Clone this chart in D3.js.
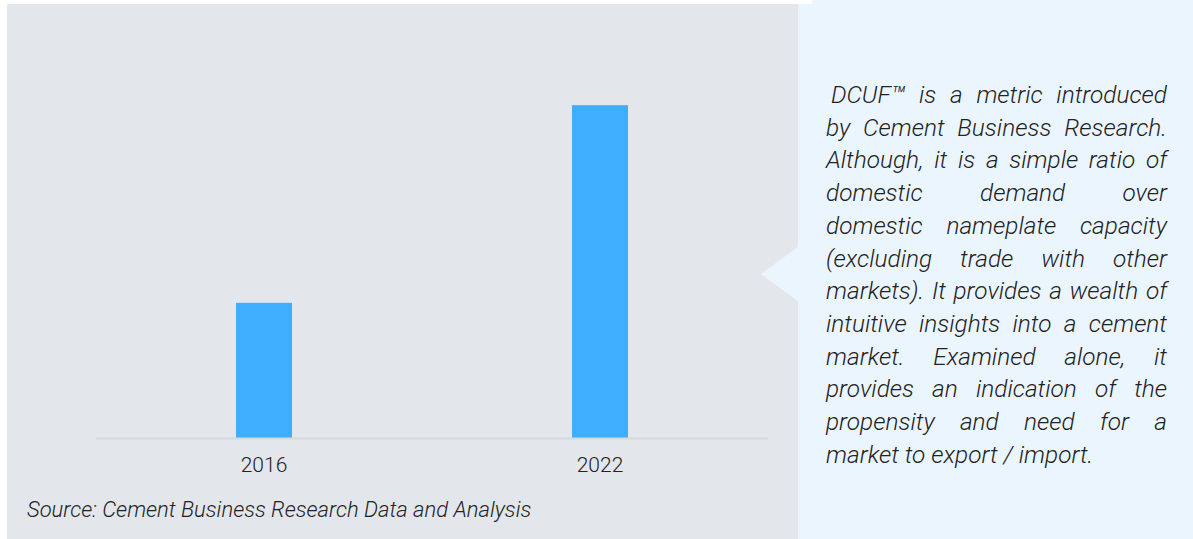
<!DOCTYPE html>
<html>
<head>
<meta charset="utf-8">
<script src="https://cdn.jsdelivr.net/npm/d3@7"></script>
<style>
  html, body { margin: 0; padding: 0; background: #fff; }
  svg { display: block; font-family: Roboto, "Noto Sans", sans-serif; }
</style>
</head>
<body>
<svg id="chart" width="1193" height="539"></svg>
<script>
// DCUF values (arbitrary unit scale 0..1)
const years  = ['2016', '2022'];
const values = [0.338, 0.832];

const noteLines = [
  '\u00a0DCUF\u2122 is a metric introduced',
  'by Cement Business Research.',
  'Although, it is a simple ratio of',
  'domestic demand over',
  'domestic nameplate capacity',
  '(excluding trade with other',
  'markets). It provides a wealth of',
  'intuitive insights into a cement',
  'market. Examined alone, it',
  'provides an indication of the',
  'propensity and need for a',
  'market to export / import.'
];
const sourceText = 'Source: Cement Business Research Data and Analysis';

const svg = d3.select('#chart');

// ── Panels ────────────────────────────────────────────────
svg.append('rect')
  .attr('x', 7).attr('y', 4)
  .attr('width', 791).attr('height', 535)
  .attr('fill', '#e3e6eb');

svg.append('rect')
  .attr('x', 798).attr('y', 4)
  .attr('width', 395).attr('height', 535)
  .attr('fill', '#ebf5fe');
svg.append('rect')
  .attr('x', 812).attr('y', 0)
  .attr('width', 381).attr('height', 10)
  .attr('fill', '#ebf5fe');

// pointer triangle
svg.append('path')
  .attr('d', 'M761,274 L799,246 L799,302 Z')
  .attr('fill', '#ebf5fe');

// ── Bars ──────────────────────────────────────────────────
const x = d3.scaleBand()
  .domain(years)
  .range([96, 768])
  .paddingInner(5 / 6)
  .paddingOuter(5 / 12);

const y = d3.scaleLinear()
  .domain([0, 1])
  .range([438, 38]);

svg.append('g')
  .selectAll('rect')
  .data(years)
  .join('rect')
  .attr('x', d => x(d))
  .attr('y', (d, i) => y(values[i]))
  .attr('width', x.bandwidth())
  .attr('height', (d, i) => y(0) - y(values[i]))
  .attr('fill', '#3eaefe');

// baseline
svg.append('line')
  .attr('x1', 96).attr('x2', 768)
  .attr('y1', 438.5).attr('y2', 438.5)
  .attr('stroke', '#d5d8dc')
  .attr('stroke-width', 2);

// x labels
svg.append('g')
  .selectAll('text')
  .data(years)
  .join('text')
  .attr('x', d => x(d) + x.bandwidth() / 2)
  .attr('y', 472)
  .attr('text-anchor', 'middle')
  .attr('font-size', 21)
  .attr('font-weight', 300)
  .attr('fill', '#222')
  .text(d => d);

// source
svg.append('text')
  .attr('x', 27)
  .attr('y', 517)
  .attr('font-size', 22)
  .attr('font-weight', 300)
  .attr('font-style', 'italic')
  .attr('fill', '#222')
  .text(sourceText);

// ── Justified note text ───────────────────────────────────
const TX0 = 826, TX1 = 1167, TY0 = 103, LH = 32.7;
const noteG = svg.append('g')
  .attr('font-size', 24.4)
  .attr('font-weight', 300)
  .attr('font-style', 'italic')
  .attr('fill', '#222');

noteLines.forEach((line, li) => {
  const yy = TY0 + li * LH;
  const lead = line.startsWith('\u00a0') ? 5 : 0;
  const words = line.trim().split(' ');
  const isLast = li === noteLines.length - 1;
  if (isLast) {
    noteG.append('text').attr('x', TX0 + lead).attr('y', yy).text(line.trim());
    return;
  }
  const nodes = words.map(w => noteG.append('text').attr('y', yy).text(w));
  const widths = nodes.map(n => n.node().getComputedTextLength());
  const total = d3.sum(widths);
  const gap = (TX1 - TX0 - lead - total) / Math.max(words.length - 1, 1);
  let cx = TX0 + lead;
  nodes.forEach((n, i) => {
    n.attr('x', cx);
    cx += widths[i] + gap;
  });
});
</script>
</body>
</html>
